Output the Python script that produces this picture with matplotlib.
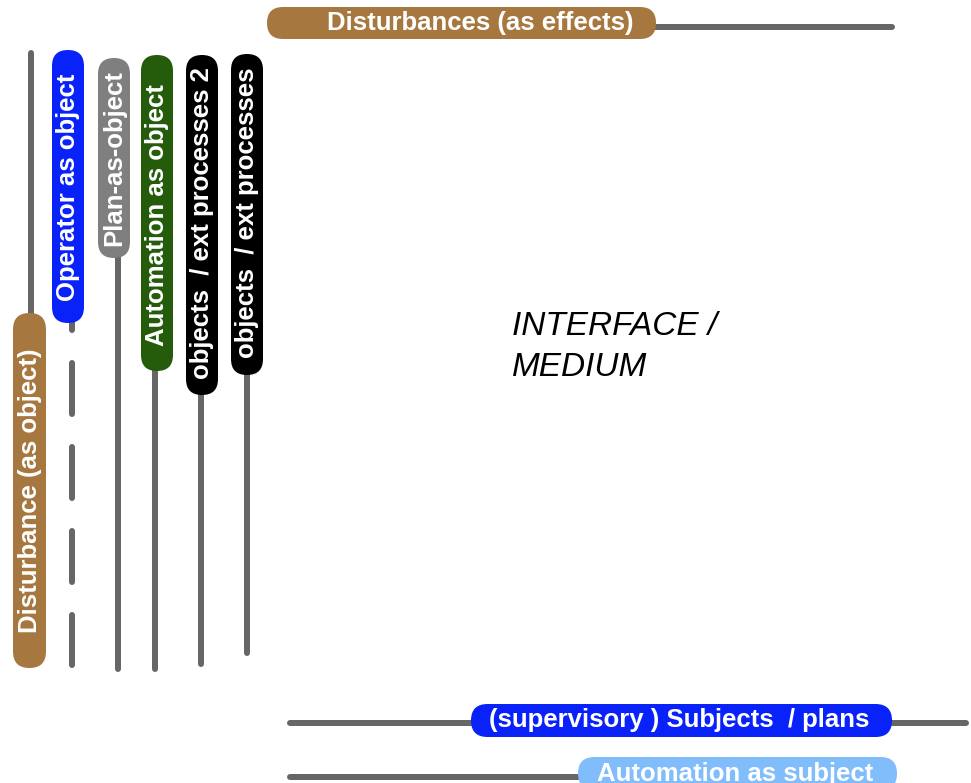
import matplotlib
matplotlib.use("Agg")
import matplotlib.pyplot as plt
from matplotlib.patches import FancyBboxPatch

plt.rcParams['font.family'] = ['Liberation Sans', 'DejaVu Sans']

W, H = 971, 783
LINE_COL = '#666666'

# pills: label, colour, left, top, right, bottom, vertical?
pill_labels = ['Disturbances (as effects)', 'Disturbance (as object)', 'Operator as object',
               'Plan-as-object', 'Automation as object', 'objects  / ext processes 2',
               'objects  / ext processes', '(supervisory ) Subjects  / plans',
               'Automation as subject']
pill_colors = ['#A67840', '#A67840', '#0A22FA', '#7F7F7F', '#245C0C', '#000000',
               '#000000', '#0A22FA', '#80BDFA']
pill_boxes = [(267, 7, 656, 39), (13, 313, 46, 668), (52, 50, 84, 323),
              (98, 58, 130, 258), (141, 55, 173, 371), (186, 55, 218, 395),
              (231, 54, 263, 375), (471, 704, 892, 737), (578, 757, 897, 790)]
pill_vertical = [False, True, True, True, True, True, True, False, False]
text_centers = [(480, 23), (30, 491), (68, 187), (114, 158), (157, 215), (202, 223),
                (247, 213), (679, 720), (735, 774)]

# connector lines: x0, y0, x1, y1, dashed?
lines = [(31, 53, 31, 330, False), (72, 279, 72, 665, True), (118, 250, 118, 669, False),
         (155, 360, 155, 669, False), (201, 390, 201, 664, False), (247, 370, 247, 653, False),
         (650, 27, 892, 27, False), (290, 723, 966, 723, False), (290, 777, 600, 777, False)]

fig = plt.figure(figsize=(W / 100, H / 100), dpi=100)
ax = fig.add_axes([0, 0, 1, 1])
ax.set_xlim(0, W)
ax.set_ylim(H, 0)
ax.axis('off')

lw = 6 * 72 / 100
for x0, y0, x1, y1, dashed in lines:
    ls = (0, (8.5, 5.5)) if dashed else '-'
    ax.plot([x0, x1], [y0, y1], color=LINE_COL, lw=lw, ls=ls,
            solid_capstyle='round', dash_capstyle='round', zorder=1)

for lab, col, (l, t, r, b), vert, (cx, cy) in zip(pill_labels, pill_colors, pill_boxes,
                                                   pill_vertical, text_centers):
    rad = min(r - l, b - t) / 2
    box = FancyBboxPatch((l, t), r - l, b - t, boxstyle=f'round,pad=0,rounding_size={rad}',
                         fc=col, ec='none', zorder=2)
    ax.add_patch(box)
    ax.text(cx, cy, lab, color='white', fontsize=18.5, fontweight='bold',
            rotation=90 if vert else 0, ha='center', va='center', zorder=3)

ax.text(512, 347, 'INTERFACE /\nMEDIUM', fontsize=24, fontstyle='italic',
        ha='left', va='center', linespacing=1.4, color='black')

fig.savefig('out.png', dpi=100)
